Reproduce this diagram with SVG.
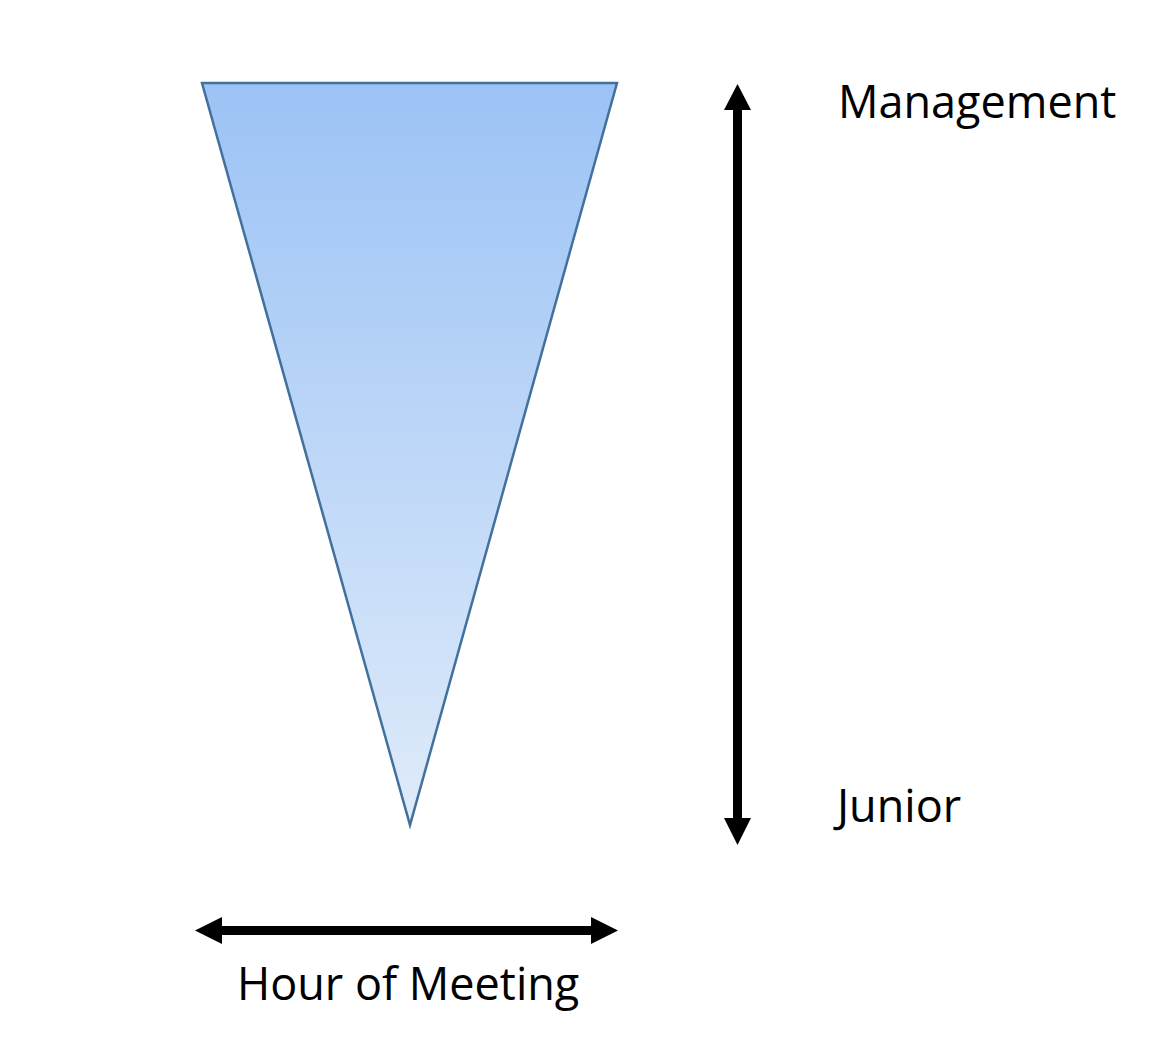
<svg xmlns="http://www.w3.org/2000/svg" width="1160" height="1063" viewBox="0 0 1160 1063">
<defs>
<linearGradient id="g" x1="0" y1="0" x2="0" y2="1">
<stop offset="0" stop-color="#9CC3F5"/>
<stop offset="1" stop-color="#DFEBFA"/>
</linearGradient>
<style>
.lbl{font-family:"Open Sans","Noto Sans",sans-serif;font-size:45px;fill:#000}
.ar{fill:#000}
</style>
</defs>
<rect width="1160" height="1063" fill="#fff"/>
<g id="triangle">
<polygon points="202,83 617,83 410,825" fill="url(#g)" stroke="#41719C" stroke-width="2.5" stroke-linejoin="miter"/>
</g>
<g id="connectors">
<g id="vertical-arrow">
<rect class="ar" x="733" y="108" width="9" height="712"/>
<polygon class="ar" points="737.5,84 751,110 724,110"/>
<polygon class="ar" points="737.5,845 751,818 724,818"/>
</g>
<g id="horizontal-arrow">
<rect class="ar" x="219" y="926" width="374" height="9"/>
<polygon class="ar" points="195,930.5 222,917 222,944"/>
<polygon class="ar" points="618,930.5 591,917 591,944"/>
</g>
</g>
<g id="label-management"><text class="lbl" x="838" y="118">Management</text></g>
<g id="label-junior"><text class="lbl" x="837" y="822">Junior</text></g>
<g id="label-hour"><text class="lbl" x="237" y="1000">Hour of Meeting</text></g>
</svg>
